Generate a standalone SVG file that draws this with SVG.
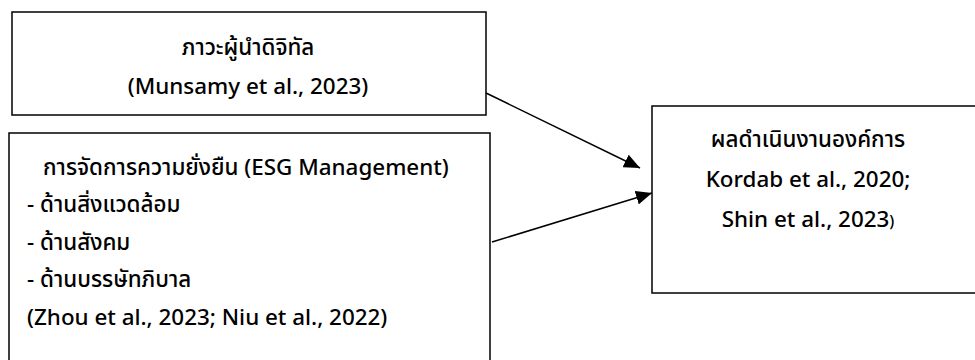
<svg xmlns="http://www.w3.org/2000/svg" width="975" height="360" viewBox="0 0 975 360">
<defs>
<marker id="ah" viewBox="0 0 16 14" refX="16" refY="7" markerWidth="16" markerHeight="14" markerUnits="userSpaceOnUse" orient="auto">
<path d="M0,0 L16,7 L0,14 Z" fill="#000"/>
</marker>
<style>
.box{fill:#fff;stroke:#000;stroke-width:1.5}
.t{font-family:"Noto Sans","Noto Sans Thai","DejaVu Sans",sans-serif;font-size:22.4px;font-weight:500;fill:#000}
.c{text-anchor:middle}
.edge{stroke:#000;stroke-width:1.5;fill:none}
</style>
</defs>
<rect width="975" height="360" fill="#fff"/>
<g id="node-digital-leadership">
<rect class="box" x="12" y="12" width="474" height="103"/>
<text class="t c" x="248" y="55">ภาวะผู้นำดิจิทัล</text>
<text class="t c" x="248" y="94">(Munsamy et al., 2023)</text>
</g>
<g id="node-esg">
<rect class="box" x="9" y="133" width="481" height="240"/>
<text class="t" x="43" y="175">การจัดการความยั่งยืน (ESG Management)</text>
<text class="t" x="27" y="212">- ด้านสิ่งแวดล้อม</text>
<text class="t" x="27" y="250">- ด้านสังคม</text>
<text class="t" x="27" y="287">- ด้านบรรษัทภิบาล</text>
<text class="t" x="27" y="325">(Zhou et al., 2023; Niu et al., 2022)</text>
</g>
<g id="node-performance">
<rect class="box" x="652" y="106" width="340" height="187"/>
<text class="t c" x="808" y="147">ผลดำเนินงานองค์การ</text>
<text class="t c" x="808" y="187">Kordab et al., 2020;</text>
<text class="t c" x="808" y="227">Shin et al., 2023<tspan font-size="16">)</tspan></text>
</g>
<g id="connectors">
<line class="edge" x1="486" y1="93" x2="640" y2="168" marker-end="url(#ah)"/>
<line class="edge" x1="492" y1="242" x2="652" y2="193" marker-end="url(#ah)"/>
</g>
</svg>
